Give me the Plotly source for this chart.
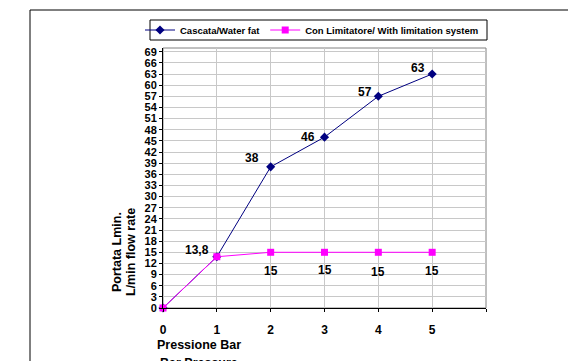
import plotly.graph_objects as go

pressure = [0, 1, 2, 3, 4, 5]
cascata = [0, 13.8, 38, 46, 57, 63]
limitatore = [0, 13.8, 15, 15, 15, 15]
cascata_labels = ["", "13,8", "38", "46", "57", "63"]
limitatore_labels = ["", "", "15", "15", "15", "15"]
y_ticks = list(range(0, 70, 3))
x_ticks = [0, 1, 2, 3, 4, 5, 6]
x_ticktext = ["0", "1", "2", "3", "4", "5", ""]

# label offsets in pixels (dx, dy-up)
cascata_label_shift = [(0, 0), (-20, 7), (-19, 9), (-17, 0), (-13, 4), (-14, 6)]
limitatore_label_shift = [(0, 0), (0, 0), (0, -19), (0, -18), (0, -20), (0, -19)]

FONT = "Liberation Sans, Arial, sans-serif"
BLUE = "#000080"
PINK = "#ff00ff"

# page body has an 8px offset; plot area in the reference spans x 163-486, y 48-308
OFF = 8
L, R, T, B = 163 - OFF, 486 - OFF, 48 - OFF, 308 - OFF
W, H = 576, 361
PW, PH = R - L, B - T


def px(x):
    return (x - OFF - L) / PW


def py(y):
    return (B - (y - OFF)) / PH


fig = go.Figure()
fig.add_trace(go.Scatter(
    x=pressure, y=cascata, name="Cascata/Water fat",
    mode="lines+markers",
    line=dict(color=BLUE, width=1),
    marker=dict(symbol="diamond", size=7, color=BLUE),
    cliponaxis=False,
))
fig.add_trace(go.Scatter(
    x=pressure, y=limitatore, name="Con Limitatore/ With limitation system",
    mode="lines+markers",
    line=dict(color=PINK, width=1),
    marker=dict(symbol="square", size=7, color=PINK),
    cliponaxis=False,
))

annotations = []
for xs, ys, labels, shifts in [
    (pressure, cascata, cascata_labels, cascata_label_shift),
    (pressure, limitatore, limitatore_labels, limitatore_label_shift),
]:
    for xv, yv, lab, (dx, dy) in zip(xs, ys, labels, shifts):
        if lab:
            annotations.append(dict(
                x=xv, y=yv, xref="x", yref="y", text="<b>%s</b>" % lab,
                showarrow=False, xshift=dx, yshift=dy,
                xanchor="center", yanchor="middle",
                font=dict(family=FONT, size=12, color="black"),
            ))

annotations += [
    dict(text="<b>Portata Lmin.</b>", xref="paper", yref="paper",
         x=px(117), y=py(252), textangle=-90,
         showarrow=False, xanchor="center", yanchor="middle",
         font=dict(family=FONT, size=12.5)),
    dict(text="<b>L/min flow rate</b>", xref="paper", yref="paper",
         x=px(131), y=py(252), textangle=-90,
         showarrow=False, xanchor="center", yanchor="middle",
         font=dict(family=FONT, size=12.5)),
    dict(text="<b>Pressione Bar</b>", xref="paper", yref="paper",
         x=px(199), y=py(345),
         showarrow=False, xanchor="center", yanchor="middle",
         font=dict(family=FONT, size=12.5)),
    dict(text="<b>Bar Pressure</b>", xref="paper", yref="paper",
         x=px(199), y=py(363),
         showarrow=False, xanchor="center", yanchor="middle",
         font=dict(family=FONT, size=12.5)),
]

fig.update_layout(
    width=W, height=H,
    margin=dict(l=L, r=W - R, t=T, b=H - B, autoexpand=False),
    paper_bgcolor="white", plot_bgcolor="white",
    font=dict(family=FONT, color="black"),
    showlegend=True,
    legend=dict(
        orientation="h", xref="paper", yref="paper",
        x=px(140), y=py(30), xanchor="left", yanchor="middle",
        borderwidth=0, bgcolor="rgba(0,0,0,0)",
        font=dict(family=FONT, size=9.5, color="black", weight="bold"),
        itemwidth=30, tracegroupgap=0,
    ),
    xaxis=dict(
        range=[0, 6], tickvals=x_ticks, ticktext=x_ticktext,
        showgrid=True, gridcolor="#c8c8c8", gridwidth=1,
        zeroline=False, showline=True, linecolor="black", linewidth=1,
        ticks="outside", ticklen=3, tickcolor="black",
        ticklabelstandoff=8,
        tickfont=dict(family=FONT, size=12, weight="bold"),
    ),
    yaxis=dict(
        range=[0, 70], tickvals=y_ticks,
        showgrid=True, gridcolor="#c8c8c8", gridwidth=1,
        zeroline=False, showline=True, linecolor="black", linewidth=1,
        ticks="outside", ticklen=3, tickcolor="black",
        tickfont=dict(family=FONT, size=11, weight="bold"),
    ),
    shapes=[
        dict(type="rect", xref="paper", yref="paper", x0=0, y0=0, x1=1, y1=1,
             line=dict(color="#808080", width=1), layer="below"),
        dict(type="rect", xref="paper", yref="paper",
             x0=px(30), y0=py(400), x1=px(620), y1=py(10),
             line=dict(color="black", width=1), layer="below"),
        dict(type="rect", xref="paper", yref="paper",
             x0=px(150), y0=py(40), x1=px(487), y1=py(20),
             line=dict(color="black", width=1), fillcolor="white", layer="below"),
    ],
    annotations=annotations,
)

fig.write_html("out.html")
